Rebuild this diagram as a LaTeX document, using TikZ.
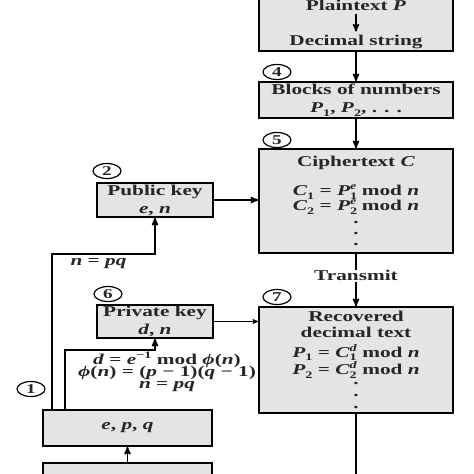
\documentclass[tikz,border=0pt]{standalone}
\usepackage{fontspec}
\setmainfont{Liberation Serif}[FakeStretch=1.42]
\usetikzlibrary{positioning, arrows, shapes.geometric}
\definecolor{boxgray}{HTML}{E4E4E4}
\newcommand{\sbx}[1]{\raisebox{-3.5pt}{\fontsize{10}{10}\selectfont #1}}
\newcommand{\spx}[1]{\raisebox{6pt}{\fontsize{10}{10}\selectfont #1}}
\newcommand{\idx}[2]{\rlap{\sbx{#1}}\spx{\textit{#2}}}
\tikzset{
>=stealth', % bold arrow heads
every node/.style={font=\fontsize{15}{15}\selectfont\bfseries, text=black!85},
box/.style={draw, line width=1.6pt, fill=boxgray, align=center, inner sep=0pt}, % gray boxes
num/.style={draw, ellipse, line width=1.2pt, minimum width=28pt, minimum height=15pt, inner sep=0pt, font=\fontsize{13.5}{13.5}\selectfont\bfseries}, % circled step numbers
link/.style={->, line width=1.6pt},
}
\begin{document}
\begin{tikzpicture}[x=1pt, y=-1pt]
            \useasboundingbox (0,0) rectangle (474,474);
            \clip (0,0) rectangle (474,474);
            % right column
            \node[box, minimum width=194pt, minimum height=100pt] (plainbox) at (356,1) {};
            \node[anchor=base] (plain) at (356,10) {Plaintext \textit{P}};
            \node (dec) at (356,42) {Decimal string};
            \node[box, minimum width=194pt, minimum height=36pt] (blocks) at (356,100) {Blocks of numbers\\[3pt] \textit{P}\sbx{1}, \textit{P}\sbx{2}, . . .};
            \node[box, minimum width=194pt, minimum height=104pt] (cipher) at (356,201) {Ciphertext \textit{C}\\[14pt] \textit{C}\sbx{1} = \textit{P}\idx{1}{e} mod \textit{n}\\ \textit{C}\sbx{2} = \textit{P}\idx{2}{e} mod \textit{n}\\[-2pt] .\\[-4pt] .\\[-4pt] .};
            \node[box, minimum width=194pt, minimum height=106pt] (recov) at (356,360) {Recovered\\[1pt] decimal text\\[5pt] \textit{P}\sbx{1} = \textit{C}\idx{1}{d} mod \textit{n}\\ \textit{P}\sbx{2} = \textit{C}\idx{2}{d} mod \textit{n}\\[-5pt] .\\[-3pt] .\\[-3pt] .};
            \coordinate (out) at (356,490);
            % left column
            \node[box, minimum width=116pt, minimum height=34pt] (pub) at (155,200) {Public key\\[3pt] \textit{e}, \textit{n}};
            \node[box, minimum width=116pt, minimum height=33pt] (priv) at (155,321.5) {Private key\\[3pt] \textit{d}, \textit{n}};
            \node[box, minimum width=169pt, minimum height=36pt] (epq) at (127.5,428) {\textit{e}, \textit{p}, \textit{q}};
            \node[box, minimum width=169pt, minimum height=54pt] (bottom) at (127.5,490) {};
            % step numbers
            \node[num] (n1) at (31,389) {1};
            \node[num] (n2) at (107,171) {2};
            \node[num] (n4) at (277,72) {4};
            \node[num] (n5) at (277,140) {5};
            \node[num] (n6) at (108,294) {6};
            \node[num] (n7) at (277,297) {7};
            % labels
            \node[anchor=base west] (npq) at (67,265) {\textit{n} = \textit{pq}};
            \node[align=center] (keys) at (167,372) {\textit{d} = \textit{e}\spx{−1} mod \textit{ϕ}(\textit{n})\\[-3pt] \textit{ϕ}(\textit{n}) = (\textit{p} − 1)(\textit{q} − 1)\\[-3pt] \textit{n} = \textit{pq}};
            \draw[link]
                (plain) edge (dec)
                (plainbox) edge (blocks)
                (blocks) edge (cipher)
                (pub) edge (pub -| cipher.west)
                (bottom) edge (epq)
                ;
            \draw[link] (cipher) -- node[fill=white, pos=0.42, inner sep=1pt] (tx) {Transmit} (recov);
            \draw[link, line width=1pt] (priv) -- (priv -| recov.west);
            \draw[link] ([xshift=10pt]epq.north west) |- ([yshift=-36pt]pub.south) -- (pub.south);
            \draw[link] ([xshift=23pt]epq.north west) |- ([yshift=-11pt]priv.south) -- (priv.south);
            \draw[line width=1.6pt] (recov) -- (out);
\end{tikzpicture}
\end{document}
